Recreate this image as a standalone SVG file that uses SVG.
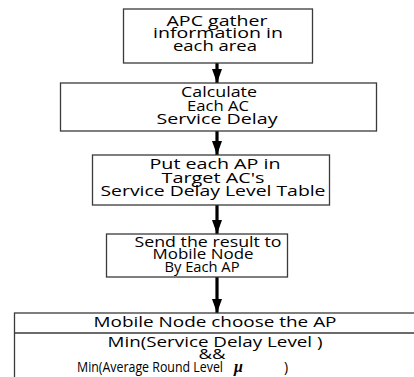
<svg xmlns="http://www.w3.org/2000/svg" width="414" height="377" viewBox="0 0 414 377">
  <style>
    .box { fill: #ffffff; stroke: #3a3a3a; stroke-width: 1.3; }
    .lbl { font-family: "Open Sans", "Noto Sans", "DejaVu Sans", sans-serif; font-size: 14px; fill: #000; text-anchor: middle; }
    .flow { stroke: #000; stroke-width: 3.2; fill: none; marker-end: url(#head); }
    .mu { font-family: "Liberation Serif", "DejaVu Serif", serif; font-style: italic; font-weight: bold; font-size: 16px; fill: #000; }
  </style>
  <defs>
    <marker id="head" viewBox="0 0 14 10" refX="14" refY="5" markerWidth="14" markerHeight="10" markerUnits="userSpaceOnUse" orient="auto">
      <path d="M0,0 L14,5 L0,10 Z" fill="#000"/>
    </marker>
  </defs>

  <rect width="414" height="377" fill="#ffffff"/>

  <!-- connectors between steps -->
  <g id="connectors">
    <line class="flow" x1="217" y1="63" x2="217" y2="83"/>
    <line class="flow" x1="217" y1="131" x2="217" y2="155"/>
    <line class="flow" x1="217" y1="205" x2="217" y2="234"/>
    <line class="flow" x1="217" y1="277" x2="217" y2="313"/>
  </g>

  <g id="gather">
    <rect class="box" x="123.5" y="9" width="189" height="54"/>
    <text class="lbl" x="217" y="26" textLength="101" lengthAdjust="spacingAndGlyphs">APC gather</text>
    <text class="lbl" x="218" y="38" textLength="130" lengthAdjust="spacingAndGlyphs">information in</text>
    <text class="lbl" x="215" y="51" textLength="84" lengthAdjust="spacingAndGlyphs">each area</text>
  </g>

  <g id="calculate">
    <rect class="box" x="60.5" y="83" width="316" height="48"/>
    <text class="lbl" x="219" y="97" textLength="76" lengthAdjust="spacingAndGlyphs">Calculate</text>
    <text class="lbl" x="218" y="111" textLength="62" lengthAdjust="spacingAndGlyphs">Each AC</text>
    <text class="lbl" x="217" y="124" textLength="121" lengthAdjust="spacingAndGlyphs">Service Delay</text>
  </g>

  <g id="level-table">
    <rect class="box" x="92.5" y="155" width="237" height="50"/>
    <text class="lbl" x="215" y="169" textLength="131" lengthAdjust="spacingAndGlyphs">Put each AP in</text>
    <text class="lbl" x="213" y="183" textLength="103" lengthAdjust="spacingAndGlyphs">Target AC's</text>
    <text class="lbl" x="213" y="196" textLength="225" lengthAdjust="spacingAndGlyphs">Service Delay Level Table</text>
  </g>

  <g id="send-result">
    <rect class="box" x="106.5" y="234" width="181" height="43"/>
    <text class="lbl" x="208" y="247" textLength="147" lengthAdjust="spacingAndGlyphs">Send the result to</text>
    <text class="lbl" x="203" y="259" textLength="101" lengthAdjust="spacingAndGlyphs">Mobile Node</text>
    <text class="lbl" x="202" y="272" textLength="75" lengthAdjust="spacingAndGlyphs">By Each AP</text>
  </g>

  <g id="choose-ap">
    <rect class="box" x="14.5" y="313" width="410" height="80"/>
    <line x1="14.5" y1="333" x2="414" y2="333" stroke="#3a3a3a" stroke-width="1.3"/>
    <text class="lbl" x="215" y="327" textLength="243" lengthAdjust="spacingAndGlyphs">Mobile Node choose the AP</text>
    <text class="lbl" x="215" y="347" textLength="215" lengthAdjust="spacingAndGlyphs">Min(Service Delay Level )</text>
    <text class="lbl" x="212" y="359" textLength="27" lengthAdjust="spacingAndGlyphs">&amp;&amp;</text>
    <text class="lbl" x="150" y="372" textLength="146" lengthAdjust="spacingAndGlyphs">Min(Average Round Level</text>
    <text class="mu" x="234" y="372">μ</text>
    <text class="lbl" x="286" y="372">)</text>
  </g>
</svg>
